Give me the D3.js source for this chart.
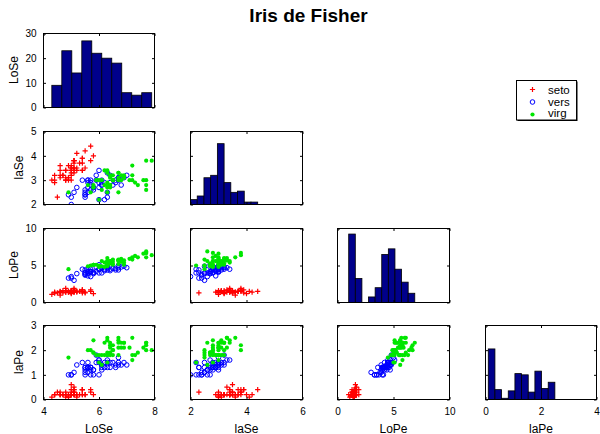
<!DOCTYPE html>
<html>
<head>
<meta charset="utf-8">
<script src="https://cdn.jsdelivr.net/npm/d3@7/dist/d3.min.js"></script>
<style>
  body { margin: 0; background: #fff; }
  svg { display: block; font-family: "Liberation Sans", Arial, Helvetica, sans-serif; }
</style>
</head>
<body>
<svg id="chart" width="600" height="434"></svg>
<script>
// Fisher's iris measurements: [LoSe, laSe, LoPe, laPe] per flower
const variables = ["LoSe", "laSe", "LoPe", "laPe"];
const groups = ["seto", "vers", "virg"];

const seto = [
  [5.1,3.5,1.4,0.2],[4.9,3.0,1.4,0.2],[4.7,3.2,1.3,0.2],[4.6,3.1,1.5,0.2],[5.0,3.6,1.4,0.2],
  [5.4,3.9,1.7,0.4],[4.6,3.4,1.4,0.3],[5.0,3.4,1.5,0.2],[4.4,2.9,1.4,0.2],[4.9,3.1,1.5,0.1],
  [5.4,3.7,1.5,0.2],[4.8,3.4,1.6,0.2],[4.8,3.0,1.4,0.1],[4.3,3.0,1.1,0.1],[5.8,4.0,1.2,0.2],
  [5.7,4.4,1.5,0.4],[5.4,3.9,1.3,0.4],[5.1,3.5,1.4,0.3],[5.7,3.8,1.7,0.3],[5.1,3.8,1.5,0.3],
  [5.4,3.4,1.7,0.2],[5.1,3.7,1.5,0.4],[4.6,3.6,1.0,0.2],[5.1,3.3,1.7,0.5],[4.8,3.4,1.9,0.2],
  [5.0,3.0,1.6,0.2],[5.0,3.4,1.6,0.4],[5.2,3.5,1.5,0.2],[5.2,3.4,1.4,0.2],[4.7,3.2,1.6,0.2],
  [4.8,3.1,1.6,0.2],[5.4,3.4,1.5,0.4],[5.2,4.1,1.5,0.1],[5.5,4.2,1.4,0.2],[4.9,3.1,1.5,0.2],
  [5.0,3.2,1.2,0.2],[5.5,3.5,1.3,0.2],[4.9,3.6,1.4,0.1],[4.4,3.0,1.3,0.2],[5.1,3.4,1.5,0.2],
  [5.0,3.5,1.3,0.3],[4.5,2.3,1.3,0.3],[4.4,3.2,1.3,0.2],[5.0,3.5,1.6,0.6],[5.1,3.8,1.9,0.4],
  [4.8,3.0,1.4,0.3],[5.1,3.8,1.6,0.2],[4.6,3.2,1.4,0.2],[5.3,3.7,1.5,0.2],[5.0,3.3,1.4,0.2]
];
const vers = [
  [7.0,3.2,4.7,1.4],[6.4,3.2,4.5,1.5],[6.9,3.1,4.9,1.5],[5.5,2.3,4.0,1.3],[6.5,2.8,4.6,1.5],
  [5.7,2.8,4.5,1.3],[6.3,3.3,4.7,1.6],[4.9,2.4,3.3,1.0],[6.6,2.9,4.6,1.3],[5.2,2.7,3.9,1.4],
  [5.0,2.0,3.5,1.0],[5.9,3.0,4.2,1.5],[6.0,2.2,4.0,1.0],[6.1,2.9,4.7,1.4],[5.6,2.9,3.6,1.3],
  [6.7,3.1,4.4,1.4],[5.6,3.0,4.5,1.5],[5.8,2.7,4.1,1.0],[6.2,2.2,4.5,1.5],[5.6,2.5,3.9,1.1],
  [5.9,3.2,4.8,1.8],[6.1,2.8,4.0,1.3],[6.3,2.5,4.9,1.5],[6.1,2.8,4.7,1.2],[6.4,2.9,4.3,1.3],
  [6.6,3.0,4.4,1.4],[6.8,2.8,4.8,1.4],[6.7,3.0,5.0,1.7],[6.0,2.9,4.5,1.5],[5.7,2.6,3.5,1.0],
  [5.5,2.4,3.8,1.1],[5.5,2.4,3.7,1.0],[5.8,2.7,3.9,1.2],[6.0,2.7,5.1,1.6],[5.4,3.0,4.5,1.5],
  [6.0,3.4,4.5,1.6],[6.7,3.1,4.7,1.5],[6.3,2.3,4.4,1.3],[5.6,3.0,4.1,1.3],[5.5,2.5,4.0,1.3],
  [5.5,2.6,4.4,1.2],[6.1,3.0,4.6,1.4],[5.8,2.6,4.0,1.2],[5.0,2.3,3.3,1.0],[5.6,2.7,4.2,1.3],
  [5.7,3.0,4.2,1.2],[5.7,2.9,4.2,1.3],[6.2,2.9,4.3,1.3],[5.1,2.5,3.0,1.1],[5.7,2.8,4.1,1.3]
];
const virg = [
  [6.3,3.3,6.0,2.5],[5.8,2.7,5.1,1.9],[7.1,3.0,5.9,2.1],[6.3,2.9,5.6,1.8],[6.5,3.0,5.8,2.2],
  [7.6,3.0,6.6,2.1],[4.9,2.5,4.5,1.7],[7.3,2.9,6.3,1.8],[6.7,2.5,5.8,1.8],[7.2,3.6,6.1,2.5],
  [6.5,3.2,5.1,2.0],[6.4,2.7,5.3,1.9],[6.8,3.0,5.5,2.1],[5.7,2.5,5.0,2.0],[5.8,2.8,5.1,2.4],
  [6.4,3.2,5.3,2.3],[6.5,3.0,5.5,1.8],[7.7,3.8,6.7,2.2],[7.7,2.6,6.9,2.3],[6.0,2.2,5.0,1.5],
  [6.9,3.2,5.7,2.3],[5.6,2.8,4.9,2.0],[7.7,2.8,6.7,2.0],[6.3,2.7,4.9,1.8],[6.7,3.3,5.7,2.1],
  [7.2,3.2,6.0,1.8],[6.2,2.8,4.8,1.8],[6.1,3.0,4.9,1.8],[6.4,2.8,5.6,2.1],[7.2,3.0,5.8,1.6],
  [7.4,2.8,6.1,1.9],[7.9,3.8,6.4,2.0],[6.4,2.8,5.6,2.2],[6.3,2.8,5.1,1.5],[6.1,2.6,5.6,1.4],
  [7.7,3.0,6.1,2.3],[6.3,3.4,5.6,2.4],[6.4,3.1,5.5,1.8],[6.0,3.0,4.8,1.8],[6.9,3.1,5.4,2.1],
  [6.7,3.1,5.6,2.4],[6.9,3.1,5.1,2.3],[5.8,2.7,5.1,1.9],[6.8,3.2,5.9,2.3],[6.7,3.3,5.7,2.5],
  [6.7,3.0,5.2,2.3],[6.3,2.5,5.0,1.9],[6.5,3.0,5.2,2.0],[6.2,3.4,5.4,2.3],[5.9,3.0,5.1,1.8]
];

// Ten-bin histogram counts for each variable (bins span min..max of the variable)
const histLoSe = [9, 23, 14, 27, 22, 20, 18, 6, 5, 6];
const histlaSe = [4, 7, 22, 24, 50, 18, 10, 11, 2, 2];
const histLoPe = [37, 13, 0, 3, 8, 26, 29, 18, 11, 5];
const histlaPe = [41, 8, 1, 7, 21, 20, 6, 23, 9, 14];
const histCounts = [histLoSe, histlaSe, histLoPe, histlaPe];
const histTop = [30, 60, 40, 60];

// Axis limits and ticks
const xDomains = [[4, 8], [2, 6], [0, 10], [0, 4]];
const xTicks = [[4, 6, 8], [2, 4, 6], [0, 5, 10], [0, 2, 4]];
const yDomains = [[0, 30], [2, 5], [0, 10], [0, 3]];
const yTicks = [[0, 10, 20, 30], [2, 3, 4, 5], [0, 5, 10], [0, 1, 2, 3]];

const groupData = [seto, vers, virg];
const groupColors = ["#ff0000", "#0000ff", "#00e600"];

const svg = d3.select("#chart");
const n = variables.length;
const fmt = d3.format("~g");

// Panel grid (pixel edges of each axes box)
const colL = d3.range(n).map(i => Math.round(43 + i * 147.2));
const colR = d3.range(n).map(i => Math.round(43 + i * 147.2 + 111.3));
const rowT = d3.range(n).map(i => Math.round(33.3 + i * 97.3));
const rowB = d3.range(n).map(i => Math.round(33.3 + i * 97.3 + 73.8));

const xScales = d3.range(n).map(j => d3.scaleLinear().domain(xDomains[j]).range([colL[j] + 0.5, colR[j] + 0.5]));
const yScales = d3.range(n).map(i => d3.scaleLinear().domain(yDomains[i]).range([rowB[i] + 0.5, rowT[i] + 0.5]));

function drawMarker(sel, g, x, y) {
  const c = groupColors[g];
  if (g === 0) {
    sel.append("path")
      .attr("d", `M${x - 2.6},${y}H${x + 2.6}M${x},${y - 2.6}V${y + 2.6}`)
      .attr("stroke", c).attr("stroke-width", 1.2).attr("fill", "none");
  } else if (g === 1) {
    sel.append("circle").attr("cx", x).attr("cy", y).attr("r", 2.3)
      .attr("stroke", c).attr("stroke-width", 1).attr("fill", "none");
  } else {
    sel.append("circle").attr("cx", x).attr("cy", y).attr("r", 2.1)
      .attr("fill", c);
  }
}

const defs = svg.append("defs");

for (let i = 0; i < n; i++) {
  for (let j = 0; j <= i; j++) {
    const xs = xScales[j];
    const ys = yScales[i];
    const panel = svg.append("g").attr("class", `panel r${i} c${j}`);
    const clipId = `clip-${i}-${j}`;
    defs.append("clipPath").attr("id", clipId).append("rect")
      .attr("x", colL[j] + 0.5).attr("y", rowT[i] + 0.5)
      .attr("width", colR[j] - colL[j]).attr("height", rowB[i] - rowT[i]);

    const body = panel.append("g").attr("clip-path", `url(#${clipId})`);

    if (i === j) {
      // Histogram on the diagonal
      const counts = histCounts[i];
      const all = groupData.flat().map(r => r[i]);
      const [lo, hi] = d3.extent(all);
      const w = (hi - lo) / counts.length;
      const hy = d3.scaleLinear().domain([0, histTop[i]]).range([rowB[i] + 0.5, rowT[i] + 0.5]);
      body.selectAll("rect.bar").data(counts).join("rect")
        .attr("class", "bar")
        .attr("x", (d, k) => xs(lo + k * w))
        .attr("width", (d, k) => xs(lo + (k + 1) * w) - xs(lo + k * w))
        .attr("y", d => hy(d))
        .attr("height", d => hy(0) - hy(d))
        .attr("fill", "#00008b")
        .attr("stroke", "#000")
        .attr("stroke-width", 0.8);
    } else {
      groupData.forEach((rows, g) => {
        const layer = body.append("g");
        rows.forEach(r => drawMarker(layer, g, xs(r[j]), ys(r[i])));
      });
    }

    // Box
    panel.append("rect")
      .attr("x", colL[j] + 0.5).attr("y", rowT[i] + 0.5)
      .attr("width", colR[j] - colL[j]).attr("height", rowB[i] - rowT[i])
      .attr("fill", "none").attr("stroke", "#000").attr("stroke-width", 1);

    // Inward tick marks on all four sides
    const tk = 2.5;
    const axes = [
      [d3.axisBottom(xs).tickValues(xTicks[j]), `translate(0,${rowB[i] + 0.5})`, i === n - 1],
      [d3.axisTop(xs).tickValues(xTicks[j]), `translate(0,${rowT[i] + 0.5})`, false],
      [d3.axisLeft(ys).tickValues(yTicks[i]), `translate(${colL[j] + 0.5},0)`, j === 0],
      [d3.axisRight(ys).tickValues(yTicks[i]), `translate(${colR[j] + 0.5},0)`, false]
    ];
    axes.forEach(([ax, tr, labelled], a) => {
      ax.tickSizeInner(-tk).tickSizeOuter(0).tickPadding(a < 2 ? 8 : 7);
      ax.tickFormat(labelled ? fmt : () => "");
      const g = panel.append("g").attr("transform", tr).call(ax);
      g.select(".domain").remove();
      g.selectAll(".tick line").attr("stroke", "#000").attr("stroke-width", 1);
      g.attr("font-size", 10).attr("font-family", null);
      g.selectAll(".tick text").attr("fill", "#000");
      if (labelled && a === 2) g.attr("class", "ylab-axis");
    });

    // Axis titles
    if (i === n - 1) {
      svg.append("text")
        .attr("x", (colL[j] + colR[j]) / 2 + 0.5).attr("y", 432.5)
        .attr("text-anchor", "middle").attr("font-size", 12)
        .text(variables[j]);
    }
    if (j === 0) {
      const tickTexts = panel.select(".ylab-axis").selectAll(".tick text").nodes();
      const left = d3.min(tickTexts, t => t.getBBox().x + colL[0] + 0.5);
      const bx = left - 7.5;
      const cy = (rowT[i] + rowB[i]) / 2;
      svg.append("text")
        .attr("transform", `translate(${bx},${cy}) rotate(-90)`)
        .attr("text-anchor", "middle").attr("font-size", 12)
        .text(variables[i]);
    }
  }
}

// Title
svg.append("text")
  .attr("x", 308.5).attr("y", 22)
  .attr("text-anchor", "middle")
  .attr("font-size", 19).attr("font-weight", "bold")
  .text("Iris de Fisher");

// Legend
const leg = svg.append("g").attr("class", "legend");
leg.append("rect").attr("x", 517.5).attr("y", 81.5).attr("width", 60).attr("height", 39.5)
  .attr("fill", "#000");
leg.append("rect").attr("x", 516.5).attr("y", 80.5).attr("width", 60).attr("height", 39.5)
  .attr("fill", "#fff").attr("stroke", "#000").attr("stroke-width", 1);
const legMarkY = [89.5, 102, 114.5];
const legTextY = [93.5, 105.5, 117];
groups.forEach((name, g) => {
  drawMarker(leg, g, 532.5, legMarkY[g]);
  leg.append("text").attr("x", 548).attr("y", legTextY[g])
    .attr("font-size", 11.5).text(name);
});
</script>
</body>
</html>
